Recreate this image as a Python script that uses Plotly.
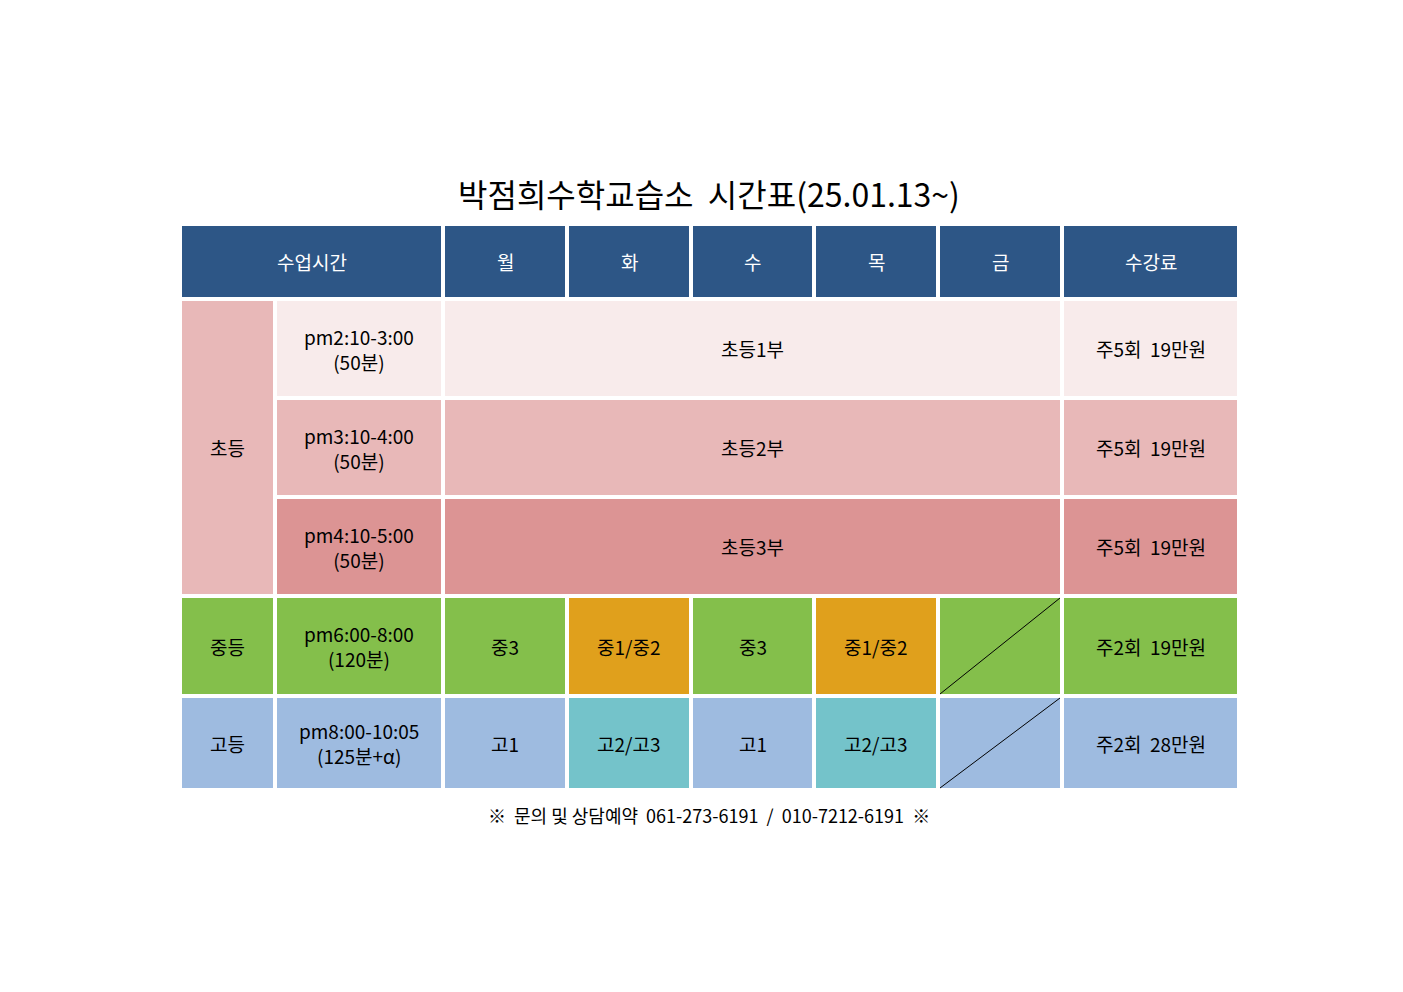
import plotly.graph_objects as go

# 데이터
title = "박점희수학교습소  시간표(25.01.13~)"
header = ["수업시간", "월", "화", "수", "목", "금", "수강료"]
groups = ["초등", "중등", "고등"]
times = ["pm2:10-3:00<br>(50분)", "pm3:10-4:00<br>(50분)", "pm4:10-5:00<br>(50분)",
         "pm6:00-8:00<br>(120분)", "pm8:00-10:05<br>(125분+α)"]
elem_classes = ["초등1부", "초등2부", "초등3부"]
mid_classes = ["중3", "중1/중2", "중3", "중1/중2", ""]
high_classes = ["고1", "고2/고3", "고1", "고2/고3", ""]
fees = ["주5회  19만원", "주5회  19만원", "주5회  19만원", "주2회  19만원", "주2회  28만원"]
footer = "※  문의 및 상담예약  061-273-6191  /  010-7212-6191  ※"

# 레이아웃 (픽셀 격자)
xe = [174, 265, 269, 433, 437, 557, 561, 681, 685, 804, 808, 928, 932, 1052, 1056, 1229]
cols = [(xe[i], xe[i + 1]) for i in range(0, 16, 2)]
rows = [(218, 289), (293, 388), (392, 487), (491, 586), (590, 686), (690, 780)]

C_HEAD = "#2D5686"
C_E = ["#F8EBEB", "#E8B8B8", "#DC9494"]
C_GREEN = "#84BF4B"
C_ORANGE = "#E0A01C"
C_BLUE = "#9EBBE0"
C_TEAL = "#74C3CA"
FONT = "Noto Sans CJK KR"

shapes, ann = [], []


def cell(c0, c1, r0, r1, color, text="", tcolor="black", diag=False):
    x0, x1 = cols[c0][0], cols[c1][1]
    y0, y1 = rows[r0][0], rows[r1][1]
    shapes.append(dict(type="rect", x0=x0, x1=x1, y0=y0, y1=y1, fillcolor=color,
                       line_width=0, layer="below"))
    if diag:
        shapes.append(dict(type="line", x0=x0, x1=x1, y0=y1, y1=y0,
                           line=dict(color="black", width=1)))
    if text:
        ann.append(dict(x=(x0 + x1) / 2, y=(y0 + y1) / 2, text=text, showarrow=False,
                        font=dict(family=FONT, size=19, color=tcolor)))


# 헤더
cell(0, 1, 0, 0, C_HEAD, header[0], "white")
for i, h in enumerate(header[1:]):
    cell(i + 2, i + 2, 0, 0, C_HEAD, h, "white")

# 초등
cell(0, 0, 1, 3, C_E[1], groups[0])
for i in range(3):
    cell(1, 1, i + 1, i + 1, C_E[i], times[i])
    cell(2, 6, i + 1, i + 1, C_E[i], elem_classes[i])
    cell(7, 7, i + 1, i + 1, C_E[i], fees[i])

# 중등
cell(0, 0, 4, 4, C_GREEN, groups[1])
cell(1, 1, 4, 4, C_GREEN, times[3])
for i, t in enumerate(mid_classes):
    cell(i + 2, i + 2, 4, 4, C_ORANGE if i % 2 else C_GREEN, t, diag=(t == ""))
cell(7, 7, 4, 4, C_GREEN, fees[3])

# 고등
cell(0, 0, 5, 5, C_BLUE, groups[2])
cell(1, 1, 5, 5, C_BLUE, times[4])
for i, t in enumerate(high_classes):
    cell(i + 2, i + 2, 5, 5, C_TEAL if i % 2 else C_BLUE, t, diag=(t == ""))
cell(7, 7, 5, 5, C_BLUE, fees[4])

ann.append(dict(x=701, y=185, text=title, showarrow=False,
                font=dict(family=FONT, size=32, color="black")))
ann.append(dict(x=701, y=807, text=footer, showarrow=False,
                font=dict(family=FONT, size=18, color="black")))

fig = go.Figure()
fig.update_layout(
    width=1403, height=992, margin=dict(l=0, r=0, t=0, b=0),
    paper_bgcolor="white", plot_bgcolor="white",
    xaxis=dict(range=[0, 1403], visible=False, fixedrange=True),
    yaxis=dict(range=[992, 0], visible=False, fixedrange=True),
    shapes=shapes, annotations=ann, showlegend=False,
)
fig.write_html("out.html")
